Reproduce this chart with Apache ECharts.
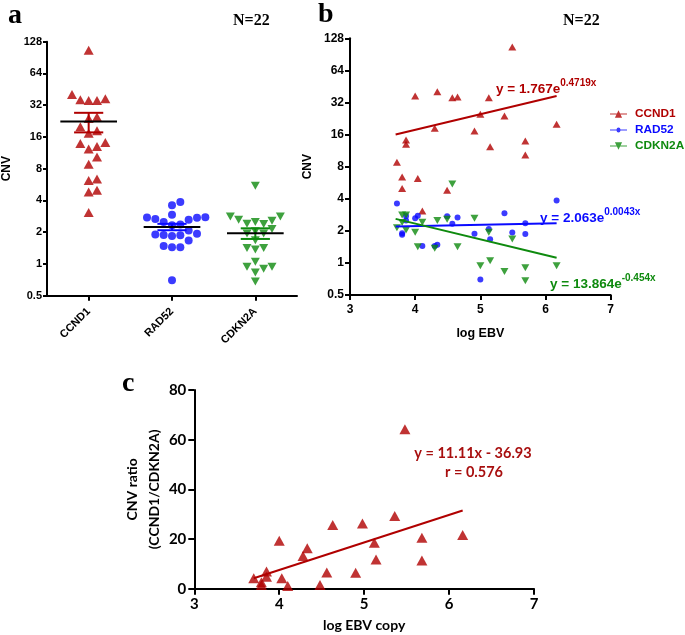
<!DOCTYPE html>
<html><head><meta charset="utf-8">
<script src="https://cdn.jsdelivr.net/npm/echarts@6/dist/echarts.min.js"></script>
<style>html,body{margin:0;padding:0;background:#fff}#c{width:685px;height:635px}</style>
</head><body><div id="c"></div>
<script>
// ---------- data ----------
const genes = ['CCND1', 'RAD52', 'CDKN2A'];
const logEBV = [3.72, 3.80, 3.80, 3.86, 3.86, 4.00, 4.04, 4.11, 4.30, 4.34, 4.49, 4.57, 4.65, 4.91, 5.00, 5.13, 5.15, 5.37, 5.49, 5.69, 5.69, 6.17];
const ccnd1  = [8.8, 6.4, 5.0, 14.2, 13.0, 36.8, 6.2, 3.07, 18.3, 40.4, 4.8, 35.5, 36.0, 17.3, 24.8, 35.5, 12.3, 23.9, 106, 13.9, 10.3, 20.0];
const rad52  = [3.6, 1.84, 1.9, 2.76, 2.5, 2.62, 2.77, 1.44, 1.44, 1.48, 2.74, 2.33, 2.67, 1.88, 0.70, 2.08, 1.67, 2.93, 1.93, 2.36, 1.87, 3.86];
const cdkn2a = [2.14, 2.82, 2.39, 2.82, 2.04, 1.94, 1.42, 2.41, 1.37, 2.5, 2.57, 5.5, 1.42, 2.63, 0.94, 1.94, 1.05, 0.83, 1.68, 0.90, 0.68, 0.94];
// fitted lines of panel b (value at lowest / highest log EBV)
const fitRange = [3.70, 6.17];
const ccnd1Fit  = [16.0, 36.8];
const rad52Fit  = [2.19, 2.36];
const cdkn2aFit = [2.59, 1.12];
// panel c
const ratioX = [3.70, 3.79, 3.79, 3.85, 3.85, 4.00, 4.03, 4.10, 4.28, 4.33, 4.48, 4.56, 4.63, 4.90, 4.98, 5.12, 5.14, 5.36, 5.48, 5.68, 5.68, 6.16];
const ratioY = [4.2, 2.6, 1.5, 6.9, 4.8, 19.3, 4.2, 1.1, 13.2, 16.3, 1.5, 6.5, 25.6, 6.4, 26.3, 18.5, 11.8, 29.3, 64.2, 20.5, 11.4, 21.6];
const linSlope = 11.11, linIntercept = -36.93, linR = 0.576;

// ---------- helpers ----------
const RED = '#b00000', BLUE = '#0a0aff', GREEN = '#0e8a0e';
const SANS = 'Liberation Sans', CAL = 'Lato';

function swarm(vals, idx) {
  const pxX = 83.67, pxY = 31.75, step = 0.1, minD = 8;
  const order = vals.map((v, i) => i).sort((a, b) => vals[a] - vals[b]);
  const placed = [], out = [];
  order.forEach(i => {
    const y = Math.log2(vals[i]) * pxY;
    for (let k = 0; k < 40; k++) {
      const off = (k % 2 === 1 ? 1 : -1) * Math.ceil(k / 2);
      const x = off * step * pxX;
      if (placed.every(p => (p[0] - x) ** 2 + (p[1] - y) ** 2 >= minD * minD)) {
        placed.push([x, y]);
        out.push([idx + off * step, vals[i]]);
        break;
      }
    }
  });
  return out;
}
function stats(vals) {
  const n = vals.length, m = vals.reduce((a, b) => a + b, 0) / n;
  const sd = Math.sqrt(vals.reduce((a, b) => a + (b - m) ** 2, 0) / (n - 1));
  const se = sd / Math.sqrt(n);
  return [m, m - se, m + se];
}
const geneVals = [ccnd1, rad52, cdkn2a];
const geneCols = [RED, BLUE, GREEN];
const statData = geneVals.map((v, i) => [i].concat(stats(v)));

const downTri = 'path://M0,0L10,0L5,9Z';

const axLine = { lineStyle: { color: '#000', width: 2 } };
const axTick = (len) => ({ show: true, length: len, lineStyle: { color: '#000', width: 2 } });
const lbl = (size, fam, margin) => ({ color: '#000', fontWeight: 'bold', fontSize: size, fontFamily: fam, margin: margin });

const chart = echarts.init(document.getElementById('c'), null, { renderer: 'canvas' });
chart.setOption({
  animation: false,
  backgroundColor: '#fff',
  grid: [
    { left: 46, top: 41.7, width: 251, height: 254 },
    { left: 350, top: 38.3, width: 260.7, height: 256.7 },
    { left: 194.3, top: 390, width: 339.7, height: 198.7 }
  ],
  xAxis: [
    { type: 'category', gridIndex: 0, data: genes, boundaryGap: true,
      axisLine: axLine, axisTick: Object.assign(axTick(5), { alignWithLabel: true }),
      axisLabel: Object.assign(lbl(11, SANS, 14), { rotate: 45, interval: 0 }), splitLine: { show: false } },
    { type: 'value', gridIndex: 0, min: -0.5, max: 2.5, show: false },
    { type: 'value', gridIndex: 1, min: 3, max: 7, interval: 1,
      axisLine: axLine, axisTick: axTick(5), axisLabel: lbl(12, SANS, 9), splitLine: { show: false },
      name: 'log EBV', nameLocation: 'middle', nameGap: 32,
      nameTextStyle: { color: '#000', fontWeight: 'bold', fontSize: 12.5, fontFamily: SANS } },
    { type: 'value', gridIndex: 2, min: 3, max: 7, interval: 1,
      axisLine: axLine, axisTick: axTick(6), axisLabel: lbl(15, CAL, 8), splitLine: { show: false },
      name: 'log EBV copy', nameLocation: 'middle', nameGap: 30,
      nameTextStyle: { color: '#000', fontWeight: 'bold', fontSize: 14, fontFamily: CAL } }
  ],
  yAxis: [
    { type: 'log', logBase: 2, gridIndex: 0, min: 0.5, max: 128, interval: 1, splitNumber: 8,
      axisLine: Object.assign({ onZero: false }, axLine), axisTick: axTick(4), axisLabel: lbl(11, SANS, 5),
      splitLine: { show: false }, minorTick: { show: false },
      name: 'CNV', nameLocation: 'middle', nameGap: 34, nameRotate: 90,
      nameTextStyle: { color: '#000', fontWeight: 'bold', fontSize: 12, fontFamily: SANS } },
    { type: 'log', logBase: 2, gridIndex: 1, min: 0.5, max: 128, interval: 1, splitNumber: 8,
      axisLine: Object.assign({ onZero: false }, axLine), axisTick: axTick(5), axisLabel: lbl(12, SANS, 6),
      splitLine: { show: false },
      name: 'CNV', nameLocation: 'middle', nameGap: 36, nameRotate: 90,
      nameTextStyle: { color: '#000', fontWeight: 'bold', fontSize: 12, fontFamily: SANS } },
    { type: 'value', gridIndex: 2, min: 0, max: 80, interval: 20,
      axisLine: Object.assign({ onZero: false }, axLine), axisTick: axTick(6), axisLabel: lbl(15, CAL, 8),
      splitLine: { show: false },
      name: 'CNV ratio\n(CCND1/CDKN2A)', nameLocation: 'middle', nameGap: 27, nameRotate: 90,
      nameTextStyle: { color: '#000', fontWeight: 'bold', fontSize: 14, fontFamily: CAL, lineHeight: 22 } }
  ],
  legend: {
    left: 610, top: 108, orient: 'vertical', itemGap: 4, itemWidth: 17, itemHeight: 9, padding: 0,
    selectedMode: false, symbolRotate: 0,
    textStyle: { fontWeight: 'bold', fontSize: 11.8, fontFamily: SANS, lineHeight: 12, padding: [0, 0, 0, 3] },
    data: [
      { name: 'CCND1', icon: 'path://M0,3.9L18,3.9L18,5.1L0,5.1Z M9,0.5L12.8,8.5L5.2,8.5Z', textStyle: { color: RED } },
      { name: 'RAD52', icon: 'path://M0,3.9L18,3.9L18,5.1L0,5.1Z M9,1.9L10.5,2.5L11.1,4L11.1,5L10.5,6.5L9,7.1L7.5,6.5L6.9,5L6.9,4L7.5,2.5Z M0,0.5L0,0.6Z M0,8.5L0,8.4Z', textStyle: { color: BLUE } },
      { name: 'CDKN2A', icon: 'path://M0,3.9L18,3.9L18,5.1L0,5.1Z M5.2,0.5L12.8,0.5L9,8.5Z', textStyle: { color: GREEN } }
    ]
  },
  graphic: [
    { type: 'text', left: 8, top: 2, style: { text: 'a', font: 'bold 28px "Liberation Serif"', fill: '#000' } },
    { type: 'text', left: 318, top: 1, style: { text: 'b', font: 'bold 28px "Liberation Serif"', fill: '#000' } },
    { type: 'text', left: 122, top: 370, style: { text: 'c', font: 'bold 28px "Liberation Serif"', fill: '#000' } },
    { type: 'text', left: 233, top: 13, style: { text: 'N=22', font: 'bold 16px "Liberation Serif"', fill: '#000' } },
    { type: 'text', left: 563, top: 13, style: { text: 'N=22', font: 'bold 16px "Liberation Serif"', fill: '#000' } },
    { type: 'text', left: 496, top: 78, style: { text: '{m|y = 1.767e}{s|0.4719x}',
      rich: { m: { fontFamily: SANS, fontWeight: 'bold', fontSize: 13.5, fill: RED, lineHeight: 18, verticalAlign: 'bottom' },
              s: { fontFamily: SANS, fontWeight: 'bold', fontSize: 10, fill: RED, lineHeight: 10, verticalAlign: 'top' } } } },
    { type: 'text', left: 540, top: 207, style: { text: '{m|y = 2.063e}{s|0.0043x}',
      rich: { m: { fontFamily: SANS, fontWeight: 'bold', fontSize: 13.5, fill: BLUE, lineHeight: 18, verticalAlign: 'bottom' },
              s: { fontFamily: SANS, fontWeight: 'bold', fontSize: 10, fill: BLUE, lineHeight: 10, verticalAlign: 'top' } } } },
    { type: 'text', left: 550, top: 273, style: { text: '{m|y = 13.864e}{s|-0.454x}',
      rich: { m: { fontFamily: SANS, fontWeight: 'bold', fontSize: 13.5, fill: GREEN, lineHeight: 18, verticalAlign: 'bottom' },
              s: { fontFamily: SANS, fontWeight: 'bold', fontSize: 10, fill: GREEN, lineHeight: 10, verticalAlign: 'top' } } } },
    { type: 'text', x: 473, y: 453, style: { text: 'y = ' + linSlope.toFixed(2) + 'x - ' + Math.abs(linIntercept).toFixed(2),
      font: 'bold 14.5px Lato', fill: '#a80f0f', align: 'center', verticalAlign: 'middle' } },
    { type: 'text', x: 474, y: 472, style: { text: 'r = ' + linR.toFixed(3),
      font: 'bold 14.5px Lato', fill: '#a80f0f', align: 'center', verticalAlign: 'middle' } }
  ],
  series: [
    // panel a
    { name: 'a-CCND1', type: 'scatter', xAxisIndex: 1, yAxisIndex: 0, symbol: 'triangle', symbolSize: [10, 9],
      itemStyle: { color: RED }, data: swarm(ccnd1, 0), z: 2 },
    { name: 'a-RAD52', type: 'scatter', xAxisIndex: 1, yAxisIndex: 0, symbol: 'circle', symbolSize: 8,
      itemStyle: { color: BLUE }, data: swarm(rad52, 1), z: 2 },
    { name: 'a-CDKN2A', type: 'scatter', xAxisIndex: 1, yAxisIndex: 0, symbol: downTri, symbolSize: [9, 8],
      itemStyle: { color: GREEN }, data: swarm(cdkn2a, 2), z: 2 },
    { name: 'meanSEM', type: 'custom', xAxisIndex: 1, yAxisIndex: 0, z: 5, data: statData,
      renderItem: function (params, api) {
        const i = api.value(0), m = api.value(1), lo = api.value(2), hi = api.value(3);
        const col = geneCols[params.dataIndex];
        const mL = api.coord([i - 0.34, m]), mR = api.coord([i + 0.34, m]);
        const top = api.coord([i, hi]), bot = api.coord([i, lo]);
        const cL = api.coord([i - 0.175, hi])[0], cR = api.coord([i + 0.175, hi])[0];
        const ls = { stroke: col, lineWidth: 2 };
        return { type: 'group', children: [
          { type: 'line', shape: { x1: top[0], y1: top[1], x2: bot[0], y2: bot[1] }, style: ls },
          { type: 'line', shape: { x1: cL, y1: top[1], x2: cR, y2: top[1] }, style: ls },
          { type: 'line', shape: { x1: cL, y1: bot[1], x2: cR, y2: bot[1] }, style: ls },
          { type: 'line', shape: { x1: mL[0], y1: mL[1], x2: mR[0], y2: mR[1] }, style: { stroke: '#000', lineWidth: 2 } }
        ] };
      } },
    // panel b
    { name: 'CCND1', type: 'scatter', xAxisIndex: 2, yAxisIndex: 1, symbol: 'triangle', symbolSize: [8, 7],
      itemStyle: { color: RED }, data: logEBV.map((x, i) => [x, ccnd1[i]]) },
    { name: 'RAD52', type: 'scatter', xAxisIndex: 2, yAxisIndex: 1, symbol: 'circle', symbolSize: 6,
      itemStyle: { color: BLUE }, data: logEBV.map((x, i) => [x, rad52[i]]) },
    { name: 'CDKN2A', type: 'scatter', xAxisIndex: 2, yAxisIndex: 1, symbol: downTri, symbolSize: [8, 7],
      itemStyle: { color: GREEN }, data: logEBV.map((x, i) => [x, cdkn2a[i]]) },
    { name: 'fit-CCND1', type: 'line', xAxisIndex: 2, yAxisIndex: 1, showSymbol: false, silent: true,
      lineStyle: { color: RED, width: 2 }, data: fitRange.map((x, i) => [x, ccnd1Fit[i]]) },
    { name: 'fit-RAD52', type: 'line', xAxisIndex: 2, yAxisIndex: 1, showSymbol: false, silent: true,
      lineStyle: { color: BLUE, width: 2 }, data: fitRange.map((x, i) => [x, rad52Fit[i]]) },
    { name: 'fit-CDKN2A', type: 'line', xAxisIndex: 2, yAxisIndex: 1, showSymbol: false, silent: true,
      lineStyle: { color: GREEN, width: 2 }, data: fitRange.map((x, i) => [x, cdkn2aFit[i]]) },
    // panel c
    { name: 'ratio', type: 'scatter', xAxisIndex: 3, yAxisIndex: 2, symbol: 'triangle', symbolSize: [11, 10],
      itemStyle: { color: RED }, data: ratioX.map((x, i) => [x, ratioY[i]]) },
    { name: 'ratio-fit', type: 'line', xAxisIndex: 3, yAxisIndex: 2, showSymbol: false, silent: true,
      lineStyle: { color: RED, width: 2 },
      data: [Math.min(...ratioX), Math.max(...ratioX)].map(x => [x, linSlope * x + linIntercept]) }
  ]
});
</script>
</body></html>
